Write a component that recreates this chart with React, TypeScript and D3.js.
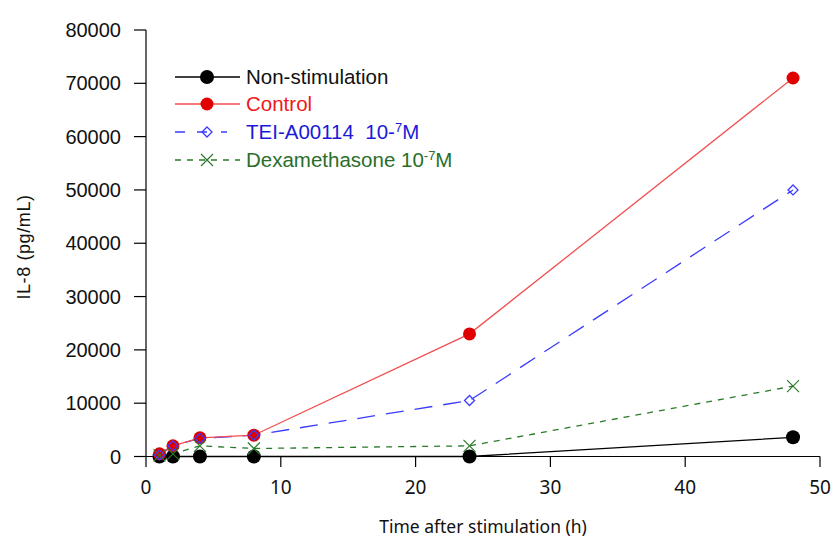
import React from "react";
import * as d3 from "d3";

const times = [1, 2, 4, 8, 24, 48];
const nonStim = [0, 0, 0, 0, 0, 3600];
const control = [500, 2000, 3500, 4000, 23000, 71000];
const tei = [300, 2000, 3400, 4000, 10500, 50000];
const dex = [200, 500, 2000, 1500, 2000, 13200];
const yTicks = [0, 10000, 20000, 30000, 40000, 50000, 60000, 70000, 80000];
const xTicks = [0, 10, 20, 30, 40, 50];

const W = 832, H = 538;
const x = d3.scaleLinear().domain([0, 50]).range([146, 820]);
const y = d3.scaleLinear().domain([0, 80000]).range([456.5, 30]);

type P = [number, number];
const pts = (vals: number[]): P[] => times.map((t, i) => [t, vals[i]]);

const linLine = d3.line<P>().x(d => x(d[0])).y(d => y(d[1]));

const BLUE = "#3b3bff";
const GREEN = "#2a7a2a";
const RED = "#e00000";
const REDL = "#f05050";

function Diamond({ cx, cy }: { cx: number; cy: number }) {
  const s = 5;
  return <path d={`M${cx},${cy - s}L${cx + s},${cy}L${cx},${cy + s}L${cx - s},${cy}Z`} fill="none" stroke={BLUE} strokeWidth={1.3} />;
}
function Cross({ cx, cy }: { cx: number; cy: number }) {
  const s = 6;
  return <path d={`M${cx - s},${cy - s}L${cx + s},${cy + s}M${cx - s},${cy + s}L${cx + s},${cy - s}`} stroke={GREEN} strokeWidth={1.2} fill="none" />;
}

export default function App() {
  const font = "Liberation Sans, Arial, sans-serif";
  const xfont = "Noto Sans, Open Sans, sans-serif";
  const legendY = [77, 104, 132, 160];
  const lf = 20.5;
  return (
    <svg width={W} height={H} style={{ position: "absolute", left: 0, top: 0, background: "#fff" }}>
      {/* axes */}
      <line x1={146} x2={146} y1={30} y2={456.5} stroke="#000" strokeWidth={1.2} />
      <line x1={146} x2={820} y1={456.5} y2={456.5} stroke="#000" strokeWidth={1.2} />
      {yTicks.map(v => (
        <g key={"y" + v}>
          <line x1={134} x2={146} y1={y(v)} y2={y(v)} stroke="#000" strokeWidth={1.2} />
          <text x={121} y={y(v) + 7} textAnchor="end" fontFamily={font} fontSize={20} fill="#111">{v}</text>
        </g>
      ))}
      {xTicks.map(v => (
        <g key={"x" + v}>
          <line x1={x(v)} x2={x(v)} y1={456.5} y2={467} stroke="#000" strokeWidth={1.2} />
          <text x={x(v)} y={494} textAnchor="middle" fontFamily={xfont} fontSize={19} fill="#111">{v}</text>
        </g>
      ))}
      <text x={483} y={533} textAnchor="middle" fontFamily={xfont} fontSize={17.5} fill="#111">Time after stimulation (h)</text>
      <text transform="translate(30,247) rotate(-90)" textAnchor="middle" fontFamily={font} fontSize={18} letterSpacing={0.6} fill="#111">IL-8 (pg/mL)</text>

      {/* series lines */}
      <path d={linLine(pts(dex)) || ""} fill="none" stroke={GREEN} strokeWidth={1.3} strokeDasharray="6,6" />
      <path d={linLine(pts(nonStim)) || ""} fill="none" stroke="#000" strokeWidth={1.3} />
      <path d={linLine(pts(tei)) || ""} fill="none" stroke={BLUE} strokeWidth={1.3} strokeDasharray="18,11" />
      <path d={linLine(pts(control)) || ""} fill="none" stroke={REDL} strokeWidth={1.3} />

      {/* markers */}
      {pts(nonStim).map((d, i) => <circle key={"n" + i} cx={x(d[0])} cy={y(d[1])} r={7} fill="#000" />)}
      {pts(control).map((d, i) => <circle key={"c" + i} cx={x(d[0])} cy={y(d[1])} r={6.5} fill={RED} />)}
      {pts(dex).map((d, i) => <Cross key={"d" + i} cx={x(d[0])} cy={y(d[1])} />)}
      {pts(tei).map((d, i) => <Diamond key={"t" + i} cx={x(d[0])} cy={y(d[1])} />)}

      {/* legend */}
      <line x1={175} x2={240} y1={legendY[0]} y2={legendY[0]} stroke="#000" strokeWidth={1.3} />
      <circle cx={207} cy={legendY[0]} r={7} fill="#000" />
      <text x={246} y={legendY[0] + 7} fontFamily={font} fontSize={lf} fill="#111">Non-stimulation</text>

      <line x1={175} x2={240} y1={legendY[1]} y2={legendY[1]} stroke={REDL} strokeWidth={1.3} />
      <circle cx={207} cy={legendY[1]} r={6.5} fill={RED} />
      <text x={246} y={legendY[1] + 7} fontFamily={font} fontSize={lf} fill="#f01818">Control</text>

      <line x1={175} x2={240} y1={legendY[2]} y2={legendY[2]} stroke={BLUE} strokeWidth={1.3} strokeDasharray="10,12,10,14,6,20" />
      <Diamond cx={207} cy={legendY[2]} />
      <text x={246} y={legendY[2] + 7} fontFamily={font} fontSize={lf} fill="#1a1ad8">
        {"TEI-A00114\u00a0\u00a010-"}<tspan fontSize={13} dy={-7}>7</tspan><tspan dy={7}>M</tspan>
      </text>

      <line x1={175} x2={240} y1={legendY[3]} y2={legendY[3]} stroke={GREEN} strokeWidth={1.3} strokeDasharray="6,6" />
      <Cross cx={207} cy={legendY[3]} />
      <text x={246} y={legendY[3] + 7} fontFamily={font} fontSize={lf} fill="#2a6e2a">
        Dexamethasone 10<tspan fontSize={13} dy={-7}>-7</tspan><tspan dy={7}>M</tspan>
      </text>
    </svg>
  );
}
